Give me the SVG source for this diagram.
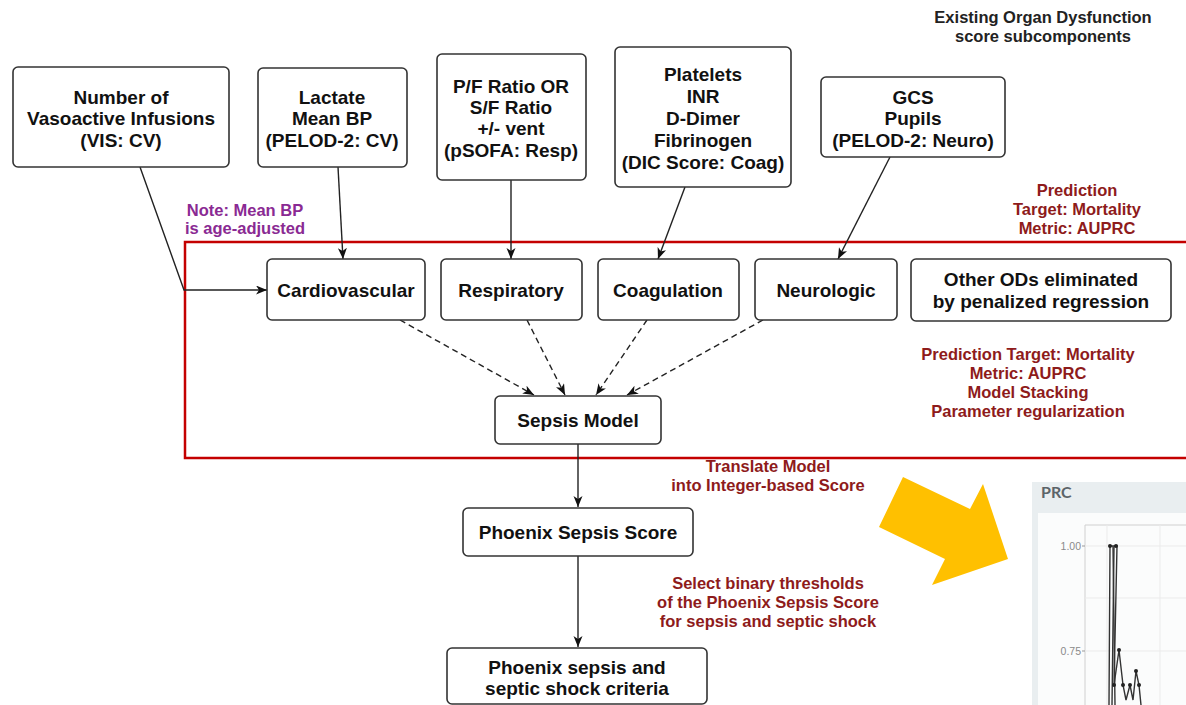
<svg xmlns="http://www.w3.org/2000/svg" width="1186" height="705" viewBox="0 0 1186 705">
  <defs>
    <marker id="arrow" markerUnits="userSpaceOnUse" markerWidth="12" markerHeight="10" refX="11" refY="4.5" orient="auto">
      <path d="M0,0 L11,4.5 L0,9 L3,4.5 Z" fill="#111"/>
    </marker>
    <style>
      .box { fill: #fff; stroke: #333; stroke-width: 1.6; }
      .bt { font-family: "Liberation Sans", Arial, sans-serif; font-weight: bold; font-size: 19px; fill: #111; text-anchor: middle; }
      .note { font-family: "Liberation Sans", Arial, sans-serif; font-weight: bold; font-size: 16.5px; text-anchor: middle; }
      .red { fill: #8e1b1b; }
      .purple { fill: #8a2a93; }
      .dark { fill: #222; }
      .conn { fill: none; stroke: #222; stroke-width: 1.4; marker-end: url(#arrow); }
      .dash { stroke-dasharray: 6 4; }
      .tick { font-family: "Liberation Sans", Arial, sans-serif; font-size: 10.5px; fill: #8a8a8a; text-anchor: end; }
    </style>
  </defs>

  <rect width="1186" height="705" fill="#fff"/>

  <!-- modelling frame -->
  <rect x="185" y="242" width="1010" height="216" fill="none" stroke="#c40000" stroke-width="2.5"/>

  <!-- annotations -->
  <g id="annotations">
    <text class="note dark" x="1043" y="23">Existing Organ Dysfunction</text>
    <text class="note dark" x="1043" y="42">score subcomponents</text>
    <text class="note purple" x="245" y="216">Note: Mean BP</text>
    <text class="note purple" x="245" y="234">is age-adjusted</text>
    <text class="note red" x="1077" y="196">Prediction</text>
    <text class="note red" x="1077" y="215">Target: Mortality</text>
    <text class="note red" x="1077" y="234">Metric: AUPRC</text>
    <text class="note red" x="1028" y="360">Prediction Target: Mortality</text>
    <text class="note red" x="1028" y="379">Metric: AUPRC</text>
    <text class="note red" x="1028" y="398">Model Stacking</text>
    <text class="note red" x="1028" y="417">Parameter regularization</text>
    <text class="note red" x="768" y="472">Translate Model</text>
    <text class="note red" x="768" y="491">into Integer-based Score</text>
    <text class="note red" x="768" y="589">Select binary thresholds</text>
    <text class="note red" x="768" y="608">of the Phoenix Sepsis Score</text>
    <text class="note red" x="768" y="627">for sepsis and septic shock</text>
  </g>

  <!-- connectors -->
  <g id="connectors">
    <path class="conn" d="M140,167 L184,290 L267,290"/>
    <path class="conn" d="M338,167 L343,259"/>
    <path class="conn" d="M511,180 L511,259"/>
    <path class="conn" d="M685,187 L658,259"/>
    <path class="conn" d="M890,157 L838,259"/>
    <path class="conn dash" d="M400,320 L534,395"/>
    <path class="conn dash" d="M527,320 L565,395"/>
    <path class="conn dash" d="M647,320 L596,395"/>
    <path class="conn dash" d="M763,320 L627,395"/>
    <path class="conn" d="M578,444 L578,507"/>
    <path class="conn" d="M578,556 L578,647"/>
  </g>

  <!-- score subcomponent sources -->
  <g id="vis">
    <rect class="box" x="13" y="67" width="216" height="100" rx="5"/>
    <text class="bt" x="121" y="104">Number of</text>
    <text class="bt" x="121" y="125">Vasoactive Infusions</text>
    <text class="bt" x="121" y="147">(VIS: CV)</text>
  </g>
  <g id="lactate">
    <rect class="box" x="258" y="68" width="149" height="99" rx="5"/>
    <text class="bt" x="332" y="104">Lactate</text>
    <text class="bt" x="332" y="125">Mean BP</text>
    <text class="bt" x="332" y="147">(PELOD-2: CV)</text>
  </g>
  <g id="pf-ratio">
    <rect class="box" x="437" y="54" width="149" height="126" rx="5"/>
    <text class="bt" x="511" y="93">P/F Ratio OR</text>
    <text class="bt" x="511" y="114">S/F Ratio</text>
    <text class="bt" x="511" y="135">+/- vent</text>
    <text class="bt" x="511" y="157">(pSOFA: Resp)</text>
  </g>
  <g id="platelets">
    <rect class="box" x="615" y="47" width="176" height="140" rx="5"/>
    <text class="bt" x="703" y="81">Platelets</text>
    <text class="bt" x="703" y="103">INR</text>
    <text class="bt" x="703" y="125">D-Dimer</text>
    <text class="bt" x="703" y="147">Fibrinogen</text>
    <text class="bt" x="703" y="169">(DIC Score: Coag)</text>
  </g>
  <g id="gcs">
    <rect class="box" x="821" y="77" width="184" height="80" rx="5"/>
    <text class="bt" x="913" y="104">GCS</text>
    <text class="bt" x="913" y="125">Pupils</text>
    <text class="bt" x="913" y="147">(PELOD-2: Neuro)</text>
  </g>

  <!-- organ dysfunction nodes -->
  <g id="cardiovascular">
    <rect class="box" x="267" y="259" width="158" height="61" rx="5"/>
    <text class="bt" x="346" y="297">Cardiovascular</text>
  </g>
  <g id="respiratory">
    <rect class="box" x="441" y="259" width="141" height="61" rx="5"/>
    <text class="bt" x="511" y="297">Respiratory</text>
  </g>
  <g id="coagulation">
    <rect class="box" x="598" y="259" width="141" height="61" rx="5"/>
    <text class="bt" x="668" y="297">Coagulation</text>
  </g>
  <g id="neurologic">
    <rect class="box" x="755" y="259" width="142" height="61" rx="5"/>
    <text class="bt" x="826" y="297">Neurologic</text>
  </g>
  <g id="other-ods">
    <rect class="box" x="911" y="259" width="260" height="62" rx="5"/>
    <text class="bt" x="1041" y="286">Other ODs eliminated</text>
    <text class="bt" x="1041" y="308">by penalized regression</text>
  </g>

  <!-- model and score nodes -->
  <g id="sepsis-model">
    <rect class="box" x="495" y="396" width="166" height="48" rx="5"/>
    <text class="bt" x="578" y="427">Sepsis Model</text>
  </g>
  <g id="phoenix-score">
    <rect class="box" x="463" y="508" width="230" height="48" rx="5"/>
    <text class="bt" x="578" y="539">Phoenix Sepsis Score</text>
  </g>
  <g id="phoenix-criteria">
    <rect class="box" x="447" y="648" width="260" height="56" rx="5"/>
    <text class="bt" x="577" y="674">Phoenix sepsis and</text>
    <text class="bt" x="577" y="695">septic shock criteria</text>
  </g>

  <!-- highlight arrow -->
  <polygon points="903,477 970,509 983,484 1008,559 932,585 945,559 879,527" fill="#ffc000"/>

  <!-- precision-recall chart panel -->
  <g id="prc-panel">
    <rect x="1032" y="482" width="160" height="230" fill="#e9eef0"/>
    <text x="1041" y="498" font-family="Lato, 'Open Sans', sans-serif" font-weight="bold" font-size="16" fill="#5c6468">PRC</text>
    <rect x="1038" y="513" width="154" height="200" fill="#fbfcfc"/>
    <line x1="1085" y1="525" x2="1186" y2="525" stroke="#d0d0d0" stroke-width="1"/>
    <line x1="1085" y1="525" x2="1085" y2="705" stroke="#d0d0d0" stroke-width="1"/>
    <g stroke="#ebebeb" stroke-width="1">
      <line x1="1107" y1="525" x2="1107" y2="705"/>
      <line x1="1160" y1="525" x2="1160" y2="705"/>
      <line x1="1085" y1="546" x2="1186" y2="546"/>
      <line x1="1085" y1="598" x2="1186" y2="598"/>
      <line x1="1085" y1="651" x2="1186" y2="651"/>
    </g>
    <line x1="1082" y1="546" x2="1085" y2="546" stroke="#999"/>
    <line x1="1082" y1="651" x2="1085" y2="651" stroke="#999"/>
    <text class="tick" x="1081" y="550">1.00</text>
    <text class="tick" x="1081" y="655">0.75</text>
    <g fill="none" stroke="#333" stroke-width="1.4">
      <polyline points="1109,705 1110,546 1113,546 1115,705"/>
      <polyline points="1112,705 1114,546 1117,546 1114,685 1119,650 1123,685 1126,700 1130,685 1133,700 1136,671 1139,685 1141,705"/>
    </g>
    <g fill="#222">
      <circle cx="1110" cy="546" r="2"/>
      <circle cx="1116" cy="546" r="2"/>
      <circle cx="1119" cy="650" r="2"/>
      <circle cx="1114" cy="685" r="2"/>
      <circle cx="1123" cy="685" r="2"/>
      <circle cx="1130" cy="685" r="2"/>
      <circle cx="1136" cy="671" r="2"/>
      <circle cx="1139" cy="685" r="2"/>
    </g>
  </g>
</svg>
